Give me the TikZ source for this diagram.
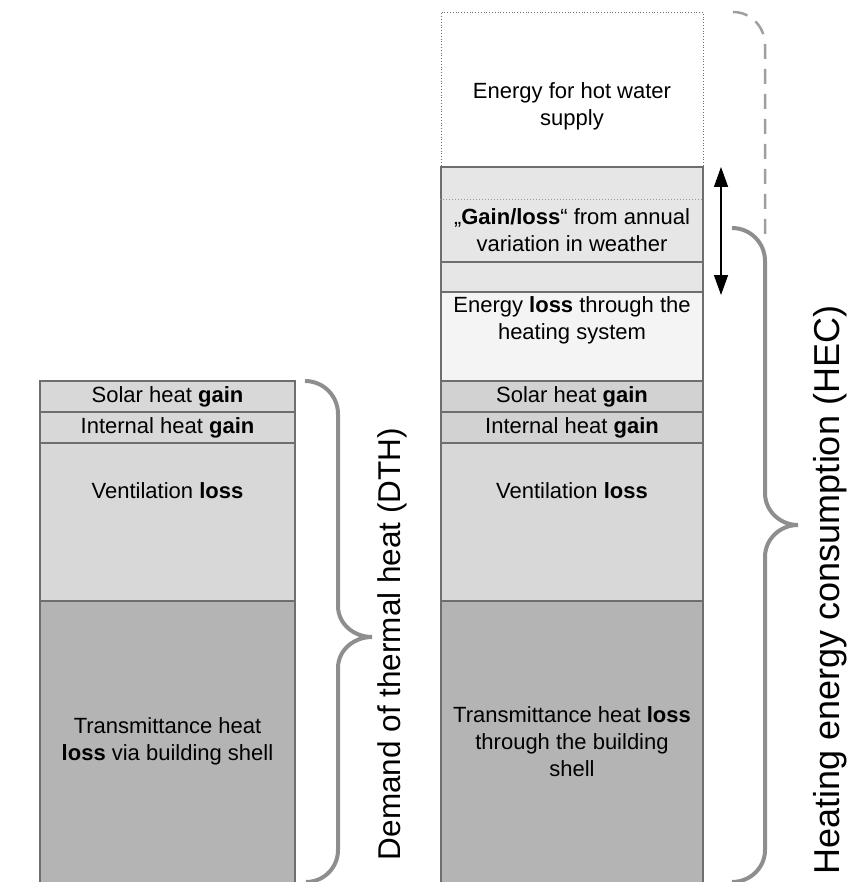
\documentclass[tikz,border=0pt]{standalone}
\usepackage{fontspec}
\setmainfont{Liberation Sans}
\usepackage{tikz}
\usetikzlibrary{arrows.meta}

\definecolor{rowlight}{HTML}{D8D8D8}
\definecolor{rowmid}{HTML}{D2D2D2}
\definecolor{rowdark}{HTML}{B4B4B4}
\definecolor{rowweather}{HTML}{E6E6E6}
\definecolor{rowsystem}{HTML}{F4F4F4}
\definecolor{edgegray}{HTML}{6E6E6E}
\definecolor{bracegray}{HTML}{8E8E8E}

\begin{document}
\begin{tikzpicture}[x=1pt,y=1pt,
    cell/.style={draw=edgegray, line width=1.2pt, inner sep=0pt},
    txt/.style={align=center, font=\fontsize{22}{27}\selectfont},
    bigtxt/.style={rotate=90, font=\fontsize{36}{40}\selectfont},
    brace/.style={draw=bracegray, line width=4pt}]
    \useasboundingbox (0,0) rectangle (851,-882);
    \clip (0,0) rectangle (851,-882);
    % Left column
    \foreach \c/\h/\shade/\i in {396.5/31/rowlight/1,427.5/31/rowlight/2,522/158/rowlight/3,742.5/283/rowdark/4} {
        \node[cell, fill=\shade, minimum width=255pt, minimum height=\h pt] (Left-\i) at (167.5,-\c) {};
    }
    % Right column
    \node[draw=edgegray, dotted, line width=0.8pt, minimum width=262pt, minimum height=155pt] (Right-0) at (572,-89.5) {};
    \node[cell, fill=rowweather, minimum width=262pt, minimum height=125pt] (Right-w) at (572,-229.5) {};
    \draw[edgegray!70, dotted, line width=1pt] (Right-w.west |- 0,-200) -- (Right-w.east |- 0,-200);
    \draw[edgegray, line width=1.2pt] (Right-w.west |- 0,-262) -- (Right-w.east |- 0,-262);
    \foreach \c/\h/\shade/\i in {336.5/89/rowsystem/1,396.5/31/rowmid/2,427.5/31/rowmid/3,522/158/rowlight/4,742.5/283/rowdark/5} {
        \node[cell, fill=\shade, minimum width=262pt, minimum height=\h pt] (Right-\i) at (572,-\c) {};
    }
    % Texts
    \node[txt] (Left-1-t) at (167.5,-396.5) {Solar heat \textbf{gain}};
    \node[txt] (Left-2-t) at (167.5,-427.5) {Internal heat \textbf{gain}};
    \node[txt] (Left-3-t) at (167.5,-491) {Ventilation \textbf{loss}};
    \node[txt] (Left-4-t) at (167.5,-741) {Transmittance heat\\\textbf{loss} via building shell};
    \node[txt] (Right-0-t) at (572,-106) {Energy for hot water\\supply};
    \node[txt] (Right-w-t) at (572,-230) {„\textbf{Gain/loss}“ from annual\\variation in weather};
    \node[txt] (Right-1-t) at (572,-320) {Energy \textbf{loss} through the\\heating system};
    \node[txt] (Right-2-t) at (572,-396.5) {Solar heat \textbf{gain}};
    \node[txt] (Right-3-t) at (572,-427.5) {Internal heat \textbf{gain}};
    \node[txt] (Right-4-t) at (572,-491) {Ventilation \textbf{loss}};
    \node[txt] (Right-5-t) at (572,-742) {Transmittance heat \textbf{loss}\\through the building\\shell};
    % Arrow
    \coordinate (Arrow-top) at (721,-167);
    \coordinate (Arrow-bot) at (721,-295);
    \draw[{Triangle[length=20pt,width=14pt]}-{Triangle[length=20pt,width=14pt]}, line width=1.5pt] (Arrow-top) -- (Arrow-bot);
    % Braces
    \draw[brace] (305,-381) to[out=0,in=90] (338,-414) -- (338,-606)
        to[out=-90,in=180] (372,-637) to[out=180,in=90] (338,-668)
        -- (338,-850) to[out=-90,in=0] (306,-882);
    \draw[brace] (732,-228) to[out=0,in=90] (765,-261) -- (765,-493)
        to[out=-90,in=180] (798,-525) to[out=180,in=90] (765,-557)
        -- (765,-850) to[out=-90,in=0] (732,-882);
    \draw[draw=bracegray!85, line width=2.5pt, dash pattern=on 15pt off 10pt] (733,-12) to[out=0,in=90] (765,-45) -- (765,-240);
    % Labels
    \node[bigtxt, font=\fontsize{31.5}{36}\selectfont] (DTH) at (392,-644) {Demand of thermal heat (DTH)};
    \node[bigtxt] (HEC) at (830,-590) {Heating energy consumption (HEC)};
\end{tikzpicture}
\end{document}
